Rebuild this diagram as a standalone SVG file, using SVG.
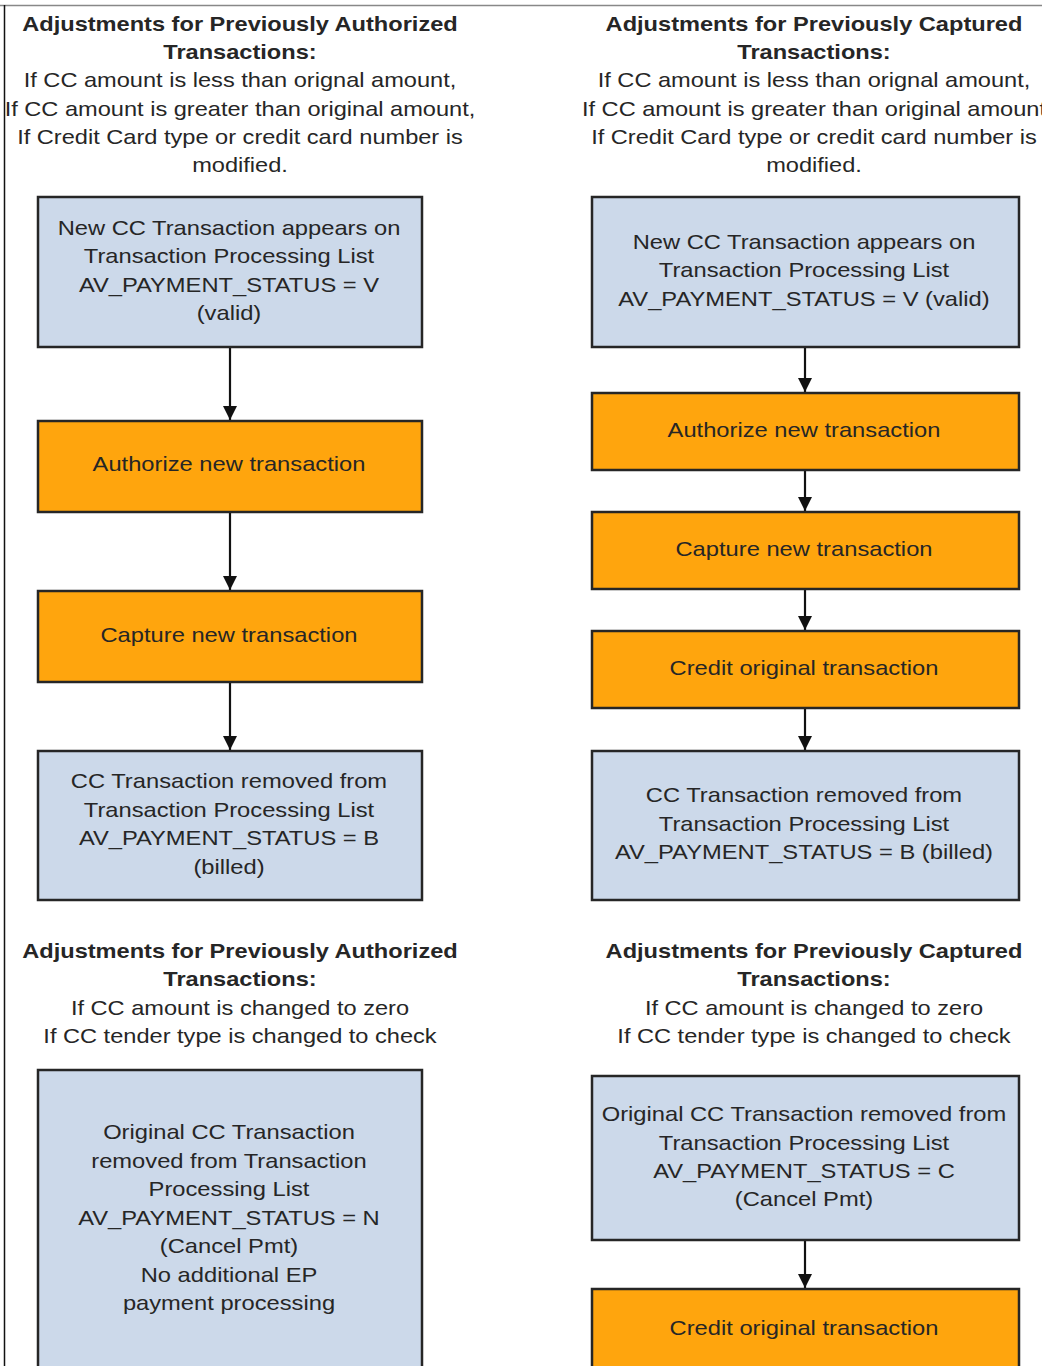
<svg xmlns="http://www.w3.org/2000/svg" width="1042" height="1366" viewBox="0 0 1042 1366">
<style>
text{font-family:"Liberation Sans",Arial,sans-serif;fill:#262626;text-anchor:middle}
.h{font-size:20px;font-weight:bold}
.s{font-size:20px}
.t{font-size:21px}
.b{fill:#ccd9ea;stroke:#262626;stroke-width:2.5}
.o{fill:#ffa50d;stroke:#262626;stroke-width:2.5}
.c{stroke:#111;stroke-width:2.2;fill:none;marker-end:url(#a)}
</style>
<defs>
<marker id="a" viewBox="0 0 14 14" refX="14" refY="7" markerWidth="14" markerHeight="14" markerUnits="userSpaceOnUse" orient="auto"><path d="M0,0L14,7L0,14z" fill="#111"/></marker>
</defs>
<rect width="1042" height="1366" fill="#fff"/>
<line x1="0" y1="5.5" x2="1042" y2="5.5" stroke="#888" stroke-width="1.5"/>
<line x1="4.5" y1="5" x2="4.5" y2="1366" stroke="#111" stroke-width="1.5"/>
<g id="heading-tl" transform="matrix(1.18,0,0,1,-43.2,0)">
<text class="h" x="240" y="31">Adjustments for Previously Authorized</text>
<text class="h" x="240" y="59">Transactions:</text>
<text class="s" x="240" y="87">If CC amount is less than orignal amount,</text>
<text class="s" x="240" y="116">If CC amount is greater than original amount,</text>
<text class="s" x="240" y="144">If Credit Card type or credit card number is</text>
<text class="s" x="240" y="172">modified.</text>
</g>
<g id="heading-tr" transform="matrix(1.18,0,0,1,-146.52,0)">
<text class="h" x="814" y="31">Adjustments for Previously Captured</text>
<text class="h" x="814" y="59">Transactions:</text>
<text class="s" x="814" y="87">If CC amount is less than orignal amount,</text>
<text class="s" x="814" y="116">If CC amount is greater than original amount</text>
<text class="s" x="814" y="144">If Credit Card type or credit card number is</text>
<text class="s" x="814" y="172">modified.</text>
</g>
<g id="heading-bl" transform="matrix(1.18,0,0,1,-43.2,0)">
<text class="h" x="240" y="958">Adjustments for Previously Authorized</text>
<text class="h" x="240" y="986">Transactions:</text>
<text class="s" x="240" y="1015">If CC amount is changed to zero</text>
<text class="s" x="240" y="1043">If CC tender type is changed to check</text>
</g>
<g id="heading-br" transform="matrix(1.18,0,0,1,-146.52,0)">
<text class="h" x="814" y="958">Adjustments for Previously Captured</text>
<text class="h" x="814" y="986">Transactions:</text>
<text class="s" x="814" y="1015">If CC amount is changed to zero</text>
<text class="s" x="814" y="1043">If CC tender type is changed to check</text>
</g>
<g id="connectors">
<line class="c" x1="230" y1="347" x2="230" y2="420"/>
<line class="c" x1="230" y1="512" x2="230" y2="590"/>
<line class="c" x1="230" y1="682" x2="230" y2="750"/>
<line class="c" x1="805" y1="347" x2="805" y2="392"/>
<line class="c" x1="805" y1="470" x2="805" y2="511"/>
<line class="c" x1="805" y1="589" x2="805" y2="630"/>
<line class="c" x1="805" y1="708" x2="805" y2="750"/>
<line class="c" x1="805" y1="1240" x2="805" y2="1288"/>
</g>
<g id="l1"><rect class="b" x="38" y="197" width="384" height="150"/>
<g transform="matrix(1.13,0,0,1,-29.77,0)">
<text class="t" x="229" y="235">New CC Transaction appears on</text>
<text class="t" x="229" y="263">Transaction Processing List</text>
<text class="t" x="229" y="292">AV_PAYMENT_STATUS = V</text>
<text class="t" x="229" y="320">(valid)</text></g></g>
<g id="l2"><rect class="o" x="38" y="421" width="384" height="91"/>
<g transform="matrix(1.13,0,0,1,-29.77,0)">
<text class="t" x="229" y="471">Authorize new transaction</text></g></g>
<g id="l3"><rect class="o" x="38" y="591" width="384" height="91"/>
<g transform="matrix(1.13,0,0,1,-29.77,0)">
<text class="t" x="229" y="642">Capture new transaction</text></g></g>
<g id="l4"><rect class="b" x="38" y="751" width="384" height="149"/>
<g transform="matrix(1.13,0,0,1,-29.77,0)">
<text class="t" x="229" y="788">CC Transaction removed from</text>
<text class="t" x="229" y="817">Transaction Processing List</text>
<text class="t" x="229" y="845">AV_PAYMENT_STATUS = B</text>
<text class="t" x="229" y="874">(billed)</text></g></g>
<g id="r1"><rect class="b" x="592" y="197" width="427" height="150"/>
<g transform="matrix(1.13,0,0,1,-104.52,0)">
<text class="t" x="804" y="249">New CC Transaction appears on</text>
<text class="t" x="804" y="277">Transaction Processing List</text>
<text class="t" x="804" y="306">AV_PAYMENT_STATUS = V (valid)</text></g></g>
<g id="r2"><rect class="o" x="592" y="393" width="427" height="77"/>
<g transform="matrix(1.13,0,0,1,-104.52,0)">
<text class="t" x="804" y="437">Authorize new transaction</text></g></g>
<g id="r3"><rect class="o" x="592" y="512" width="427" height="77"/>
<g transform="matrix(1.13,0,0,1,-104.52,0)">
<text class="t" x="804" y="556">Capture new transaction</text></g></g>
<g id="r4"><rect class="o" x="592" y="631" width="427" height="77"/>
<g transform="matrix(1.13,0,0,1,-104.52,0)">
<text class="t" x="804" y="675">Credit original transaction</text></g></g>
<g id="r5"><rect class="b" x="592" y="751" width="427" height="149"/>
<g transform="matrix(1.13,0,0,1,-104.52,0)">
<text class="t" x="804" y="802">CC Transaction removed from</text>
<text class="t" x="804" y="831">Transaction Processing List</text>
<text class="t" x="804" y="859">AV_PAYMENT_STATUS = B (billed)</text></g></g>
<g id="l5"><rect class="b" x="38" y="1070" width="384" height="310"/>
<g transform="matrix(1.13,0,0,1,-29.77,0)">
<text class="t" x="229" y="1139">Original CC Transaction</text>
<text class="t" x="229" y="1168">removed from Transaction</text>
<text class="t" x="229" y="1196">Processing List</text>
<text class="t" x="229" y="1225">AV_PAYMENT_STATUS = N</text>
<text class="t" x="229" y="1253">(Cancel Pmt)</text>
<text class="t" x="229" y="1282">No additional EP</text>
<text class="t" x="229" y="1310">payment processing</text></g></g>
<g id="r6"><rect class="b" x="592" y="1076" width="427" height="164"/>
<g transform="matrix(1.13,0,0,1,-104.52,0)">
<text class="t" x="804" y="1121">Original CC Transaction removed from</text>
<text class="t" x="804" y="1150">Transaction Processing List</text>
<text class="t" x="804" y="1178">AV_PAYMENT_STATUS = C</text>
<text class="t" x="804" y="1206">(Cancel Pmt)</text></g></g>
<g id="r7"><rect class="o" x="592" y="1289" width="427" height="100"/>
<g transform="matrix(1.13,0,0,1,-104.52,0)">
<text class="t" x="804" y="1335">Credit original transaction</text></g></g>
</svg>
